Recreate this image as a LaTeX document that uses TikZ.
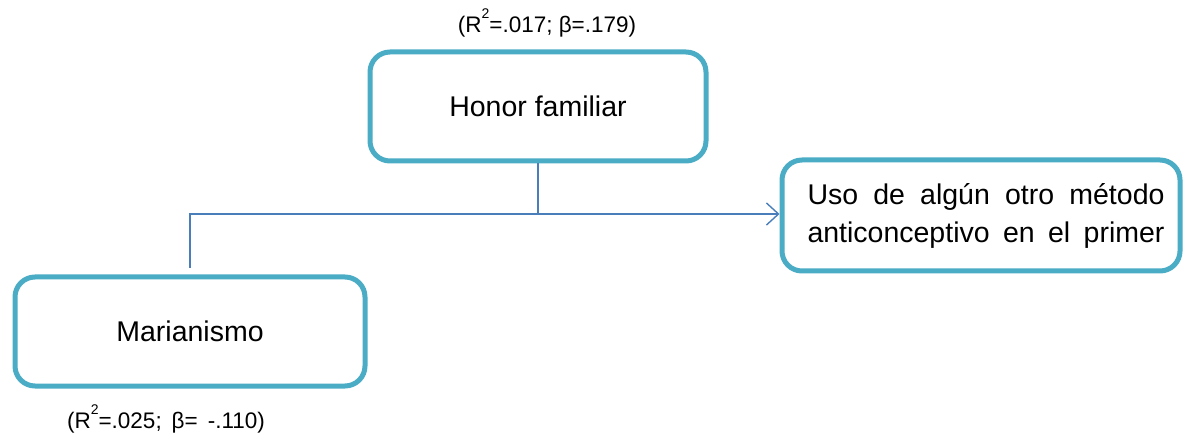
\documentclass[tikz,border=0pt]{standalone}
\usepackage{fontspec}
\setmainfont{Liberation Sans}
\usetikzlibrary{arrows.meta}
\definecolor{boxc}{HTML}{4BACC6}
\definecolor{linec}{HTML}{4A7EBB}
\newcommand{\suptwo}{\raisebox{0.62em}{\fontsize{14}{14}\selectfont 2}}
\tikzset{
  vbox/.style={draw=boxc, line width=5pt, rounded corners=20pt, fill=white,
    inner sep=0pt, font=\fontsize{28.5}{38}\selectfont},
  conn/.style={draw=linec, line width=1.4pt},
  lab/.style={inner sep=0pt, font=\fontsize{22.5}{26}\selectfont}
}
\begin{document}
\begin{tikzpicture}[x=1pt,y=-1pt]
\useasboundingbox (0,0) rectangle (1183,443);
\node[vbox, minimum width=336pt, minimum height=109pt] (hon) at (538,106.5) {Honor familiar};
\node[vbox, minimum width=350pt, minimum height=109pt] (mar) at (190,331.5) {Marianismo};
\node[vbox, minimum width=398pt, minimum height=111pt] (uso) at (981,215.5)
  {\hspace*{10pt}\parbox{357pt}{\makebox[357pt][s]{Uso de algún otro método}\\
   \makebox[357pt][s]{anticonceptivo en el primer}}};
\node[lab] (lh) at (547,23) {(R\suptwo=.017; β=.179)};
\node[lab] (lm) at (166,419) {(R\suptwo=.025;\, β=\, -.110)};
\coordinate (mtop) at (190,268);
\coordinate (corner) at (190,214);
\draw[conn, -{Straight Barb[length=12pt,width=22pt]}] (mtop) -- (corner) -- (corner -| uso.west);
\draw[conn] (hon.south) -- (hon.south |- corner);
\end{tikzpicture}
\end{document}
